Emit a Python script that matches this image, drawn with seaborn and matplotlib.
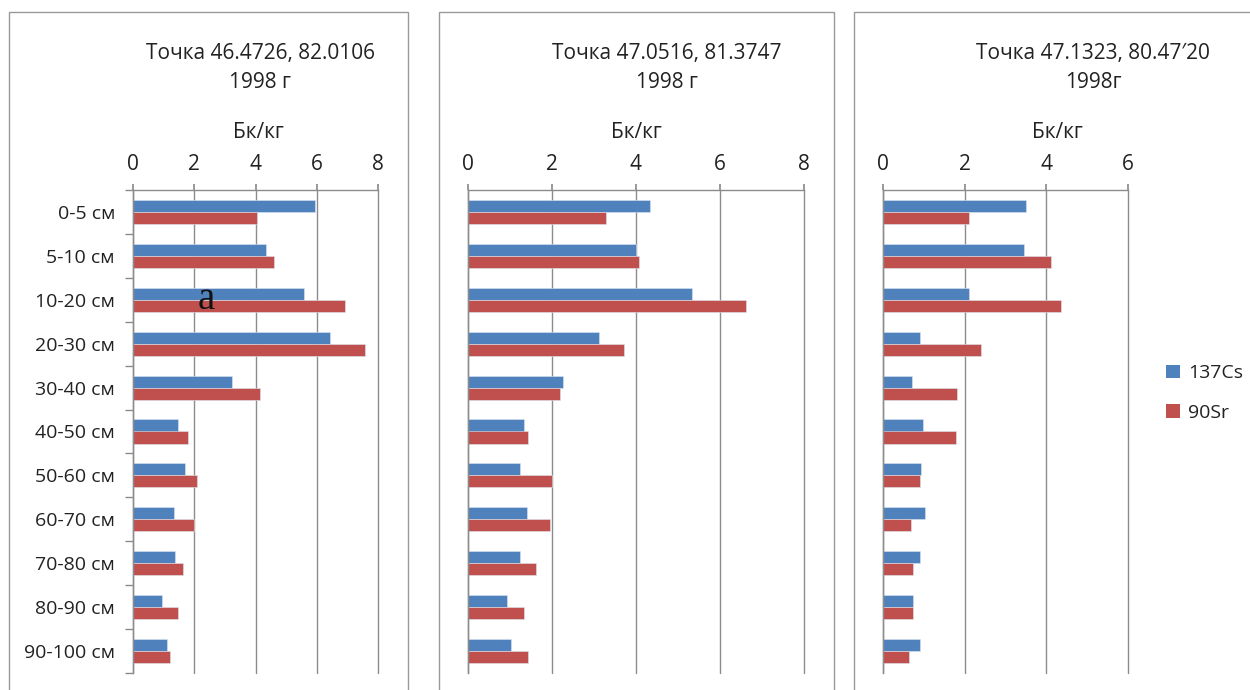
import matplotlib
matplotlib.use("Agg")
import matplotlib.pyplot as plt
from matplotlib.patches import Rectangle
import seaborn as sns
import pandas as pd
import numpy as np

# ---- data ----
depths = ["0-5 см", "5-10 см", "10-20 см", "20-30 см", "30-40 см", "40-50 см",
          "50-60 см", "60-70 см", "70-80 см", "80-90 см", "90-100 см"]
series_names = ["137Cs", "90Sr"]

p1_cs = [5.95, 4.34, 5.58, 6.42, 3.24, 1.46, 1.71, 1.33, 1.38, 0.95, 1.12]
p1_sr = [4.04, 4.60, 6.93, 7.57, 4.13, 1.79, 2.10, 1.98, 1.63, 1.46, 1.21]

p2_cs = [4.34, 4.01, 5.32, 3.13, 2.27, 1.34, 1.24, 1.40, 1.24, 0.93, 1.03]
p2_sr = [3.29, 4.06, 6.62, 3.72, 2.20, 1.43, 2.00, 1.96, 1.62, 1.34, 1.43]

p3_cs = [3.51, 3.44, 2.11, 0.90, 0.71, 0.99, 0.94, 1.03, 0.90, 0.74, 0.90]
p3_sr = [2.11, 4.11, 4.36, 2.39, 1.82, 1.79, 0.90, 0.68, 0.74, 0.74, 0.64]

titles = ["Точка 46.4726, 82.0106", "Точка 47.0516, 81.3747", "Точка 47.1323, 80.47′20"]
subtitles = ["1998 г", "1998 г", "1998г"]
unit_label = "Бк/кг"
xmaxes = [8, 8, 6]
xticks_list = [[0, 2, 4, 6, 8], [0, 2, 4, 6, 8], [0, 2, 4, 6]]

colors = {"137Cs": "#4F81BD", "90Sr": "#C0504D"}

# ---- style ----
sns.set_theme(style="white")
plt.rcParams["font.family"] = ["Open Sans", "DejaVu Sans"]
FS_T = 15
FS = 14
GRID = "#8c8c8c"
TXT = "#222222"

W, H = 1250, 690
fig = plt.figure(figsize=(W / 100, H / 100), dpi=100)

def fx(px):
    return px / W

def fy(py):
    return 1 - py / H

# panel frames
for (x0, x1) in [(9, 408), (439, 834), (854, 1262)]:
    fig.patches.append(Rectangle((fx(x0), fy(702)), fx(x1 - x0), (702 - 12) / H,
                                 transform=fig.transFigure, fill=False,
                                 edgecolor="#999999", linewidth=1.0, zorder=0))

# axes (plot areas)
areas = [(133, 378.3), (467.7, 804.3), (882.7, 1128.3)]
top_px, bot_px = 190, 673
panels = [(p1_cs, p1_sr), (p2_cs, p2_sr), (p3_cs, p3_sr)]

axes = []
for i, ((x0, x1), (cs, sr)) in enumerate(zip(areas, panels)):
    ax = fig.add_axes([fx(x0), fy(bot_px), fx(x1 - x0), (bot_px - top_px) / H])
    df = pd.DataFrame({
        "depth": depths * 2,
        "value": list(cs) + list(sr),
        "isotope": [series_names[0]] * len(depths) + [series_names[1]] * len(depths),
    })
    sns.barplot(data=df, x="value", y="depth", hue="isotope", orient="h",
                palette=colors, width=0.55, ax=ax, legend=False,
                edgecolor="#dce6f2", linewidth=0.4, saturation=1)
    ax.set_xlim(0, xmaxes[i])
    ax.set_ylim(10.5, -0.5)
    ax.set_xticks(xticks_list[i])
    ax.xaxis.tick_top()
    ax.set_xlabel("")
    ax.set_ylabel("")
    ax.grid(axis="x", color=GRID, linewidth=1.0)
    ax.grid(axis="y", visible=False)
    for gl in ax.xaxis.get_gridlines():
        gl.set_clip_on(False)
    ax.set_axisbelow(True)
    for s in ["right", "bottom"]:
        ax.spines[s].set_visible(False)
    for s in ["top", "left"]:
        ax.spines[s].set_color(GRID)
        ax.spines[s].set_linewidth(1.0)
    ax.tick_params(axis="x", top=True, bottom=False, length=4, color=GRID,
                   labelsize=FS_T, pad=7, labelcolor=TXT)
    ax.tick_params(axis="y", left=False, length=0, labelsize=FS, pad=13,
                   labelcolor=TXT)
    if i == 0:
        ax.set_yticks(np.arange(-0.5, 11, 1), minor=True)
        ax.tick_params(axis="y", which="minor", left=True, length=6, color=GRID,
                       width=1.0)
    else:
        ax.set_yticklabels([])
    ax.set_facecolor("white")
    axes.append(ax)

# titles / unit labels
title_x = [260, 667, 1093]
unit_x = [258, 636, 1057]
for i in range(3):
    fig.text(fx(title_x[i]), fy(53), titles[i], ha="center", va="center",
             fontsize=FS_T, color=TXT)
    fig.text(fx(title_x[i]), fy(83), subtitles[i], ha="center", va="center",
             fontsize=FS_T, color=TXT)
    fig.text(fx(unit_x[i]), fy(133), unit_label, ha="center", va="center",
             fontsize=FS_T, color=TXT)

# annotation "a"
fig.text(fx(206), fy(300), "a", ha="center", va="center", fontsize=28,
         family=["Liberation Serif", "DejaVu Serif"], color="#111111")

# legend
handles = [Rectangle((0, 0), 1, 1, facecolor=colors[n], edgecolor="none") for n in series_names]
fig.legend(handles, series_names, loc="center left",
           bbox_to_anchor=(fx(1162), fy(393)), frameon=False, fontsize=FS,
           handlelength=0.7, handleheight=0.7, handletextpad=0.45,
           labelspacing=1.1, labelcolor=TXT, borderaxespad=0, borderpad=0.2)

fig.savefig("out.png", dpi=100, facecolor="white")
